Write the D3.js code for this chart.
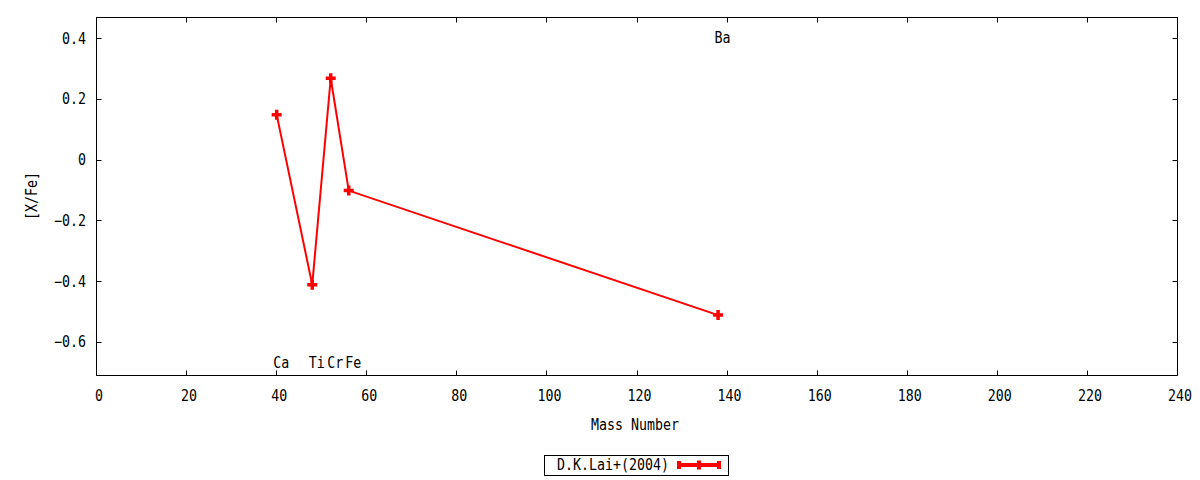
<!DOCTYPE html>
<html>
<head>
<meta charset="utf-8">
<script src="https://cdn.jsdelivr.net/npm/d3@7"></script>
<style>
html,body{margin:0;padding:0;background:#fff;}
svg{display:block;}
text{font-family:"DejaVu Sans Mono",monospace;font-size:15px;fill:#000;}
</style>
</head>
<body>
<svg id="chart" width="1200" height="480"></svg>
<script>
// ---- data ----
const elements = ["Ca", "Ti", "Cr", "Fe", "Ba"];
const massNumber = [40, 47.9, 52, 56, 138];
const xFe = [0.15, -0.41, 0.27, -0.10, -0.51];
const labelY = [-0.67, -0.67, -0.67, -0.67, 0.40];
const xTicks = [0, 20, 40, 60, 80, 100, 120, 140, 160, 180, 200, 220, 240];
const yTicks = [-0.6, -0.4, -0.2, 0, 0.2, 0.4];
const seriesName = "D.K.Lai+(2004)";
const xTitle = "Mass Number";
const yTitle = "[X/Fe]";

const svg = d3.select("#chart");
const L = 96.5, R = 1177.5, T = 17.5, B = 375.5;
const x = d3.scaleLinear().domain([0, 240]).range([L, R]);
const y = d3.scaleLinear().domain([-0.709, 0.470]).range([B, T]);
const CW = 8; // char advance

function txt(g, s, px, py, anchor) {
  return g.append("text").attr("x", px).attr("y", py)
    .attr("text-anchor", anchor || "start")
    .attr("textLength", s.length * CW)
    .attr("lengthAdjust", "spacingAndGlyphs")
    .text(s);
}

// border
svg.append("rect").attr("x", L).attr("y", T).attr("width", R - L).attr("height", B - T)
  .attr("fill", "none").attr("stroke", "#000").attr("stroke-width", 1);

// ticks
const tk = 5;
const gt = svg.append("g").attr("stroke", "#000").attr("stroke-width", 1);
xTicks.forEach(v => {
  const px = Math.round(x(v) - 0.5) + 0.5;
  gt.append("line").attr("x1", px).attr("x2", px).attr("y1", B).attr("y2", B - tk);
  gt.append("line").attr("x1", px).attr("x2", px).attr("y1", T).attr("y2", T + tk);
});
yTicks.forEach(v => {
  const py = Math.round(y(v) - 0.5) + 0.5;
  gt.append("line").attr("x1", L).attr("x2", L + tk).attr("y1", py).attr("y2", py);
  gt.append("line").attr("x1", R).attr("x2", R - tk).attr("y1", py).attr("y2", py);
});

// tick labels
const gl = svg.append("g");
xTicks.forEach(v => txt(gl, String(v), x(v) + 2.5, 401, "middle"));
yTicks.forEach(v => {
  const s = v === 0 ? "0" : d3.format(".1f")(v);
  txt(gl, s, 86, y(v) + 5, "end");
});

// axis titles
txt(svg, xTitle, 635, 430, "middle");
const yt = svg.append("g").attr("transform", "translate(37,196) rotate(-90)");
txt(yt, yTitle, 0, 0, "middle");

// element labels
elements.forEach((e, i) => txt(svg, e, x(massNumber[i]) - 3.5, y(labelY[i]) + 4, "start"));

// series line
const pts = massNumber.map((m, i) => [m, xFe[i]]);
svg.append("path").datum(pts)
  .attr("d", d3.line().x(d => x(d[0])).y(d => y(d[1])))
  .attr("fill", "none").attr("stroke", "#ff0000").attr("stroke-width", 2);

// markers
const ms = 5;
svg.append("g").selectAll("path").data(pts).join("path")
  .attr("d", d => {
    const cx = x(d[0]), cy = y(d[1]);
    return `M${cx - ms},${cy}H${cx + ms}M${cx},${cy - ms}V${cy + ms}`;
  })
  .attr("stroke", "#ff0000").attr("stroke-width", 3.5).attr("fill", "none");

// legend
const lg = svg.append("g");
lg.append("rect").attr("x", 544.5).attr("y", 455.5).attr("width", 184).attr("height", 20)
  .attr("fill", "#fff").attr("stroke", "#000").attr("stroke-width", 1);
txt(lg, seriesName, 557, 470, "start");
const ly = 465, lx1 = 677, lx2 = 721;
lg.append("line").attr("x1", lx1).attr("x2", lx2).attr("y1", ly).attr("y2", ly)
  .attr("stroke", "#ff0000").attr("stroke-width", 4);
[[lx1 + 2, 4], [(lx1 + lx2) / 2, 4.5], [lx2 - 2, 4]].forEach(([cx, h]) => {
  lg.append("line").attr("x1", cx).attr("x2", cx).attr("y1", ly - h).attr("y2", ly + h)
    .attr("stroke", "#ff0000").attr("stroke-width", 4);
});
</script>
</body>
</html>
